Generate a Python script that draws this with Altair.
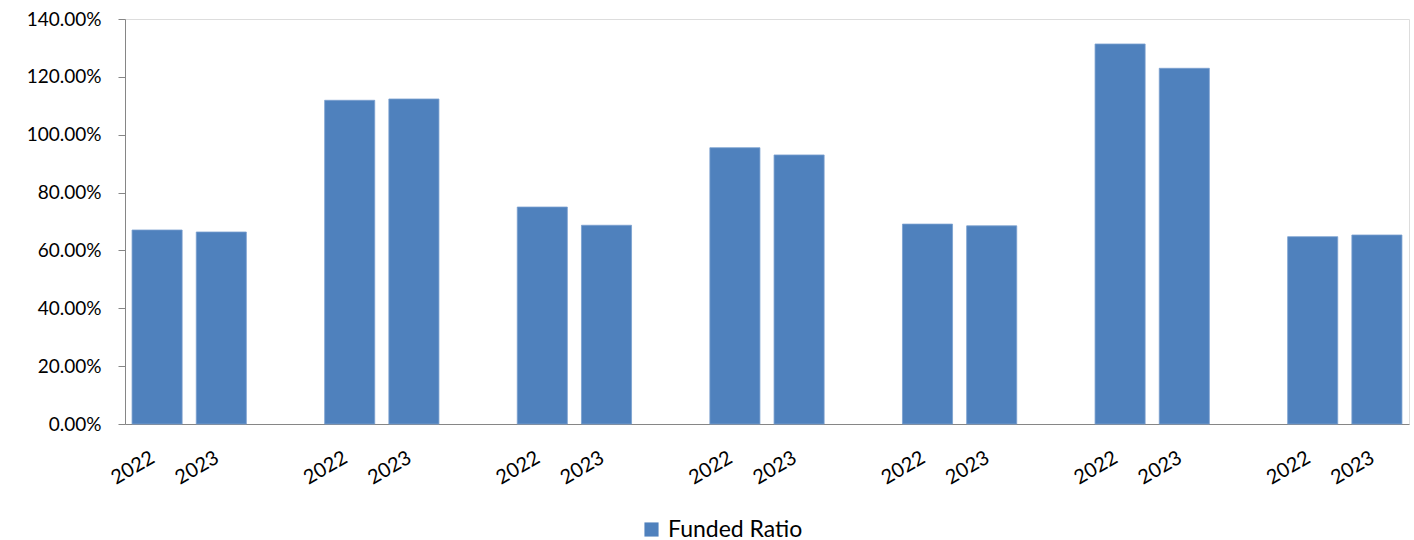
import altair as alt
import pandas as pd

# Funded ratio per group, fiscal years 2022 and 2023
years = ["2022", "2023"]
ratio_2022 = [0.6706, 1.1190, 0.7500, 0.9550, 0.6910, 1.3136, 0.6475]
ratio_2023 = [0.6637, 1.1235, 0.6870, 0.9300, 0.6850, 1.2296, 0.6533]
y_ticks = [0.0, 0.2, 0.4, 0.6, 0.8, 1.0, 1.2, 1.4]
series_name = "Funded Ratio"

n_groups = len(ratio_2022)

# slot order on the x axis: 2022, 2023, then an empty spacer between groups
slots = []
rows = []
for g in range(n_groups):
    for yr, vals in zip(years, (ratio_2022, ratio_2023)):
        sid = f"{g + 1}|{yr}"
        slots.append(sid)
        rows.append({"slot": sid, "value": vals[g], "series": series_name})
    if g < n_groups - 1:
        slots.append(f"{g + 1}|")

df = pd.DataFrame(rows)

font = "Lato"
gray = "#868686"

chart = (
    alt.Chart(df)
    .mark_bar(stroke="#7A9FCF", strokeWidth=0.8)
    .encode(
        x=alt.X(
            "slot:N",
            sort=slots,
            scale=alt.Scale(domain=slots, paddingInner=0.22, paddingOuter=0.11),
            axis=alt.Axis(
                title=None,
                labelExpr="split(datum.value, '|')[1]",
                labelAngle=-30,
                labelAlign="right",
                labelBaseline="middle",
                labelPadding=32,
                labelOffset=-4,
                labelFontSize=20,
                labelFont=font,
                labelColor="#000000",
                ticks=False,
                domainColor=gray,
                domainWidth=1,
                labelOverlap=False,
            ),
        ),
        y=alt.Y(
            "value:Q",
            scale=alt.Scale(domain=[0, 1.4], nice=False),
            axis=alt.Axis(
                title=None,
                values=y_ticks,
                format=".2%",
                grid=False,
                tickColor=gray,
                tickSize=7,
                domainColor=gray,
                labelFontSize=19,
                labelFont=font,
                labelColor="#000000",
                labelPadding=17,
            ),
        ),
        color=alt.Color(
            "series:N",
            scale=alt.Scale(range=["#4F81BD"]),
            legend=alt.Legend(
                title=None,
                orient="none",
                legendX=515,
                legendY=499,
                symbolType="square",
                symbolSize=200,
                symbolStrokeWidth=0,
                labelFontSize=23,
                labelFont=font,
                labelColor="#000000",
                labelOffset=5,
            ),
        ),
    )
    .properties(
        width=1284,
        height=405,
        autosize=alt.AutoSizeParams(type="none"),
        padding={"left": 125, "top": 19, "right": 5, "bottom": 116},
    )
    .configure_view(stroke=None)
    .configure(background="#ffffff")
)

chart.save("out.html", embed_options={"renderer": "svg", "actions": False})
